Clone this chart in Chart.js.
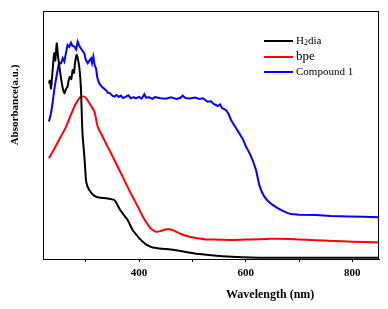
<!DOCTYPE html>
<html>
<head>
<meta charset="utf-8">
<script src="https://cdn.jsdelivr.net/npm/chart.js@4.4.1/dist/chart.umd.min.js"></script>
<style>
html,body{margin:0;padding:0;background:#fff;}
#wrap{width:388px;height:309px;}
</style>
</head>
<body>
<div id="wrap"><canvas id="c" width="388" height="309"></canvas></div>
<script>
// Wavelength (nm) / absorbance (a.u., arbitrary 0-100 scale)
const h2diaWl = [231,233,235,238,241,243,245.8,248,250.8,253,256,258,260.6,263,266,268,270.6,273,275.6,278,280,283,285,288,291,294,297.6,300.6,303,306.9,312,319.4,328,338,346,353.7,358,363,370,378.7,388,395,400.6,407,413,420,425.6,435,450.6,475.6,495,513,540,575.6,610,638,700,760,850];
const h2diaAbs = [70.8,72,68.8,76,83,80,87,82,77.5,74,70,68,66.8,68.5,69.5,72,73.5,72.5,76.2,75,79,82.3,81,77.5,69.5,50.7,41.3,31.9,29.5,27.8,26.3,25.1,24.7,24.5,24.2,23.8,22.5,20.4,18.2,15.7,11.7,9.8,8.3,7,5.9,5.1,4.6,4.3,4.0,3.3,2.6,2.0,1.4,0.9,0.6,0.5,0.5,0.5,0.5];

const bpeWl = [231,240,250,263.3,272,282,291,299.4,306.9,316.3,322.5,331.9,341,350.7,360,369.4,378,388,398,407,413,419.4,425,432,441,449,457,463,469.4,480,494.4,510,525.6,550,575.6,610,640,657,680,700,730,762.5,800,850];
const bpeAbs = [40.6,44,48,53.4,58,62.8,65.5,65.2,62.8,59.4,53.4,49.3,45.3,41.3,37.2,33.2,29.3,25.1,21,17.1,15,13.0,11.8,11.0,11.3,11.9,12.0,11.7,11.0,10,9.0,8.4,7.9,7.8,7.7,7.9,8.1,8.2,8.1,7.9,7.6,7.3,7.0,6.7];

const compWl = [231,233,235,238,241,244,247.5,250,253.8,257,260,263,266,269,272.5,275,278.8,282,285,288,291,294,297.6,300,303.8,307,310,312,314.4,317,319.4,322,325.6,330,334,338,342,346,350,353.8,358,362,366,370,375.6,380,385,390,394.4,400,405,410,413,419.4,425,430,440,450.6,460,470,478,482,487,495,505,513,520,528.8,535,540,547.5,552,556,563,568,572.5,580,588,595,600.6,607,613,619.4,625.6,630,635,642,650.7,660,669.5,678,685,700,732,760,794.7,820,850];
const compAbs = [55.4,57,58.7,63,68.1,72,76.2,79,78.9,81,79.6,83,86.3,85.5,87.2,86,85.6,84.5,87.6,86,85,84,82.9,80.5,78.9,80,80.9,79,81.6,78,76.9,73,70.8,69.5,68.8,68.1,67,66.8,65.9,65.5,66.1,65.3,65.9,64.9,65.5,66,64.8,65.3,64.8,65.4,64.7,66.4,65.1,65.2,64.6,65.3,64.8,64.6,65.2,64.5,65.0,65.9,64.9,64.7,65.1,64.5,64.8,63.4,63.6,62.5,61.7,62.3,60.8,60.1,58.5,56,53.4,50.7,48.2,45.3,42.8,39.9,35.9,29.8,27.2,25.1,23.3,21.8,20.5,19.4,18.6,18.1,17.8,17.7,17.3,17.1,17.0,16.8];

const seriesLabels = ['H2dia','bpe','Compound 1'];
const seriesColors = ['#000000','#ff0000','#0000ff'];
const xTickValues = [300,400,500,600,700,800];
const xLabelValues = [400,600,800];

function pts(xs, ys){ return xs.map((x,i)=>({x:x,y:ys[i]})); }

const framePlugin = {
  id:'frame',
  afterDraw(chart){
    const {ctx, chartArea:a} = chart;
    ctx.save();
    ctx.strokeStyle = '#000';
    ctx.lineWidth = 1;
    ctx.strokeRect(a.left+0.5, a.top+0.5, a.right-a.left-1, a.bottom-a.top);
    // legend
    const lx = 264, ly = [41, 57, 72];
    chart.data.datasets.forEach((ds,i)=>{
      ctx.strokeStyle = ds.borderColor;
      ctx.lineWidth = 2;
      ctx.beginPath(); ctx.moveTo(lx, ly[i]); ctx.lineTo(lx+29, ly[i]); ctx.stroke();
      ctx.fillStyle = '#000';
      ctx.textBaseline = 'middle';
      ctx.textAlign = 'left';
      const tx = lx + 32;
      if (ds.label === 'H2dia') {
        ctx.font = '11px "Liberation Serif"';
        ctx.fillText('H', tx, ly[i]);
        const w1 = ctx.measureText('H').width;
        ctx.font = '8px "Liberation Serif"';
        ctx.fillText('2', tx + w1, ly[i] + 2);
        const w2 = ctx.measureText('2').width;
        ctx.font = '11px "Liberation Serif"';
        ctx.fillText('dia', tx + w1 + w2, ly[i]);
      } else if (ds.label === 'bpe') {
        ctx.font = '13px "Liberation Serif"';
        ctx.fillText(ds.label, tx, ly[i]);
      } else {
        ctx.font = '11px "Liberation Serif"';
        ctx.fillText(ds.label, tx, ly[i]);
      }
    });
    // axis titles
    ctx.fillStyle = '#000';
    ctx.font = 'bold 12px "Liberation Serif"';
    ctx.textAlign = 'center';
    ctx.textBaseline = 'middle';
    ctx.fillText('Wavelength (nm)', a.left + 0.676*(a.right-a.left), 295);
    ctx.save();
    ctx.translate(15, 105);
    ctx.rotate(-Math.PI/2);
    ctx.font = 'bold 11px "Liberation Serif"';
    ctx.fillText('Absorbance(a.u.)', 0, 0);
    ctx.restore();
    ctx.restore();
  }
};

new Chart(document.getElementById('c'), {
  type:'line',
  data:{
    datasets:[
      {label:seriesLabels[0], data:pts(h2diaWl,h2diaAbs), borderColor:seriesColors[0], borderWidth:2, pointRadius:0, tension:0.2},
      {label:seriesLabels[1], data:pts(bpeWl,bpeAbs), borderColor:seriesColors[1], borderWidth:2, pointRadius:0, tension:0.3},
      {label:seriesLabels[2], data:pts(compWl,compAbs), borderColor:seriesColors[2], borderWidth:2, pointRadius:0, tension:0}
    ]
  },
  options:{
    responsive:false,
    animation:false,
    layout:{padding:{left:43,right:9,top:11,bottom:0}},
    plugins:{legend:{display:false}, tooltip:{enabled:false}},
    scales:{
      x:{
        type:'linear', min:220, max:850,
        afterBuildTicks(s){ s.ticks = xTickValues.map(v=>({value:v})); },
        afterFit(s){ s.height = 50; },
        grid:{drawOnChartArea:false, drawTicks:true, tickLength:3, color:'#000'},
        border:{display:true, color:'#000'},
        ticks:{
          padding:5, color:'#000', maxRotation:0, autoSkip:false,
          font:{family:'"Liberation Serif"', size:11, weight:'bold'},
          callback:(v)=> xLabelValues.includes(v) ? String(v) : ''
        }
      },
      y:{
        display:false, min:0, max:100
      }
    }
  },
  plugins:[framePlugin]
});
</script>
</body>
</html>
